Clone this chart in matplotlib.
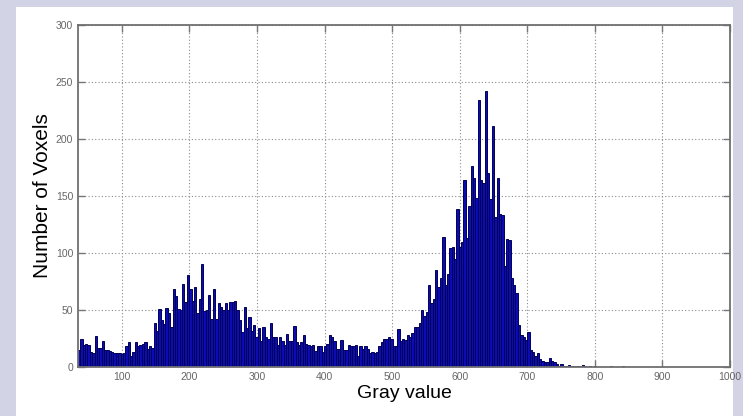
import matplotlib
matplotlib.use("Agg")
import matplotlib.pyplot as plt
from matplotlib.patches import Rectangle
import numpy as np

plt.rcParams['font.family'] = ['Liberation Sans', 'DejaVu Sans']

# Histogram data (bin start, bin width, counts per bin)
bin_start = 35.0
bin_width = 3.5
counts = [
    15, 25, 19, 20, 19, 13, 12, 27, 17, 17,
    23, 15, 15, 14, 13, 12, 12, 12, 11, 12,
    18, 22, 10, 13, 22, 18, 19, 20, 22, 16,
    18, 17, 39, 32, 51, 41, 38, 52, 47, 35,
    68, 62, 51, 50, 73, 57, 81, 68, 58, 70,
    47, 60, 90,
    49, 50, 63, 42, 68, 42, 56, 53, 50, 56,
    50, 57, 57, 58, 50, 41, 31, 53, 34, 44,
    32, 37, 26, 34, 23, 35, 26, 25, 39, 26,
    26, 19, 26, 23, 19, 29, 23, 23, 36, 22,
    19, 22, 28, 20, 19, 18, 19, 14, 18, 18,
    13, 18, 20, 28, 26, 23, 16, 16, 24, 15,
    15, 19, 18, 18, 19, 10, 18, 16, 18, 16,
    12, 13, 12, 13, 18, 22, 25, 25, 26, 25,
    18, 18, 33, 23, 25, 24, 28, 26, 30, 35,
    35, 39, 50, 45, 48,
    72, 56, 60, 85, 70, 78, 114, 72, 82, 104,
    105, 95, 139, 105, 110, 164, 113, 141, 176, 166,
    148, 234, 164, 161, 242, 170, 147, 211, 132, 166,
    134, 133, 89, 112, 111, 78, 72, 65, 37, 28,
    26, 24, 31,
    15, 13, 10, 12, 7, 5, 4, 4, 8, 5,
    4, 3, 1, 3, 1, 1, 2, 1, 1, 1,
    1, 1, 2, 1, 0, 1, 0, 1, 0, 0,
    0, 0, 0, 0, 1, 0, 0, 0, 0, 1,
]
x_ticks = [100, 200, 300, 400, 500, 600, 700, 800, 900, 1000]
y_ticks = [0, 50, 100, 150, 200, 250, 300]
x_label = "Gray value"
y_label = "Number of Voxels"

W, H = 743, 416
fig = plt.figure(figsize=(W / 100, H / 100), dpi=100)
fig.patch.set_facecolor('#d3d3e6')
# white panel
fig.patches.append(Rectangle((16 / W, 0), (733 - 16) / W, (416 - 7) / H,
                             transform=fig.transFigure, facecolor='white',
                             edgecolor='none', zorder=-10))

ax = fig.add_axes([78 / W, 49 / H, (730 - 78) / W, (367 - 25) / H])
ax.set_zorder(5)
ax.set_facecolor('white')

lefts = bin_start + bin_width * np.arange(len(counts))
ax.bar(lefts, counts, width=bin_width, align='edge',
       color='#0c0cb0', edgecolor='#000058', linewidth=0.7, zorder=2)

ax.set_xlim(bin_start, 1000)
ax.set_ylim(0, 300)
ax.set_xticks(x_ticks)
ax.set_yticks(y_ticks)
ax.grid(True, linestyle=(0, (1, 2)), color='#8a8a8a', linewidth=0.8, zorder=0)
ax.set_axisbelow(True)
ax.tick_params(direction='in', length=5, width=1, colors='#777777',
               labelsize=7.5, top=True, right=True, labelcolor='#666666')
for s in ax.spines.values():
    s.set_color('#707070')
    s.set_linewidth(1.3)

ax.set_xlabel(x_label, fontsize=14, labelpad=2)
ax.set_ylabel(y_label, fontsize=15, labelpad=3)

fig.savefig('out.png', dpi=100, facecolor=fig.get_facecolor())
